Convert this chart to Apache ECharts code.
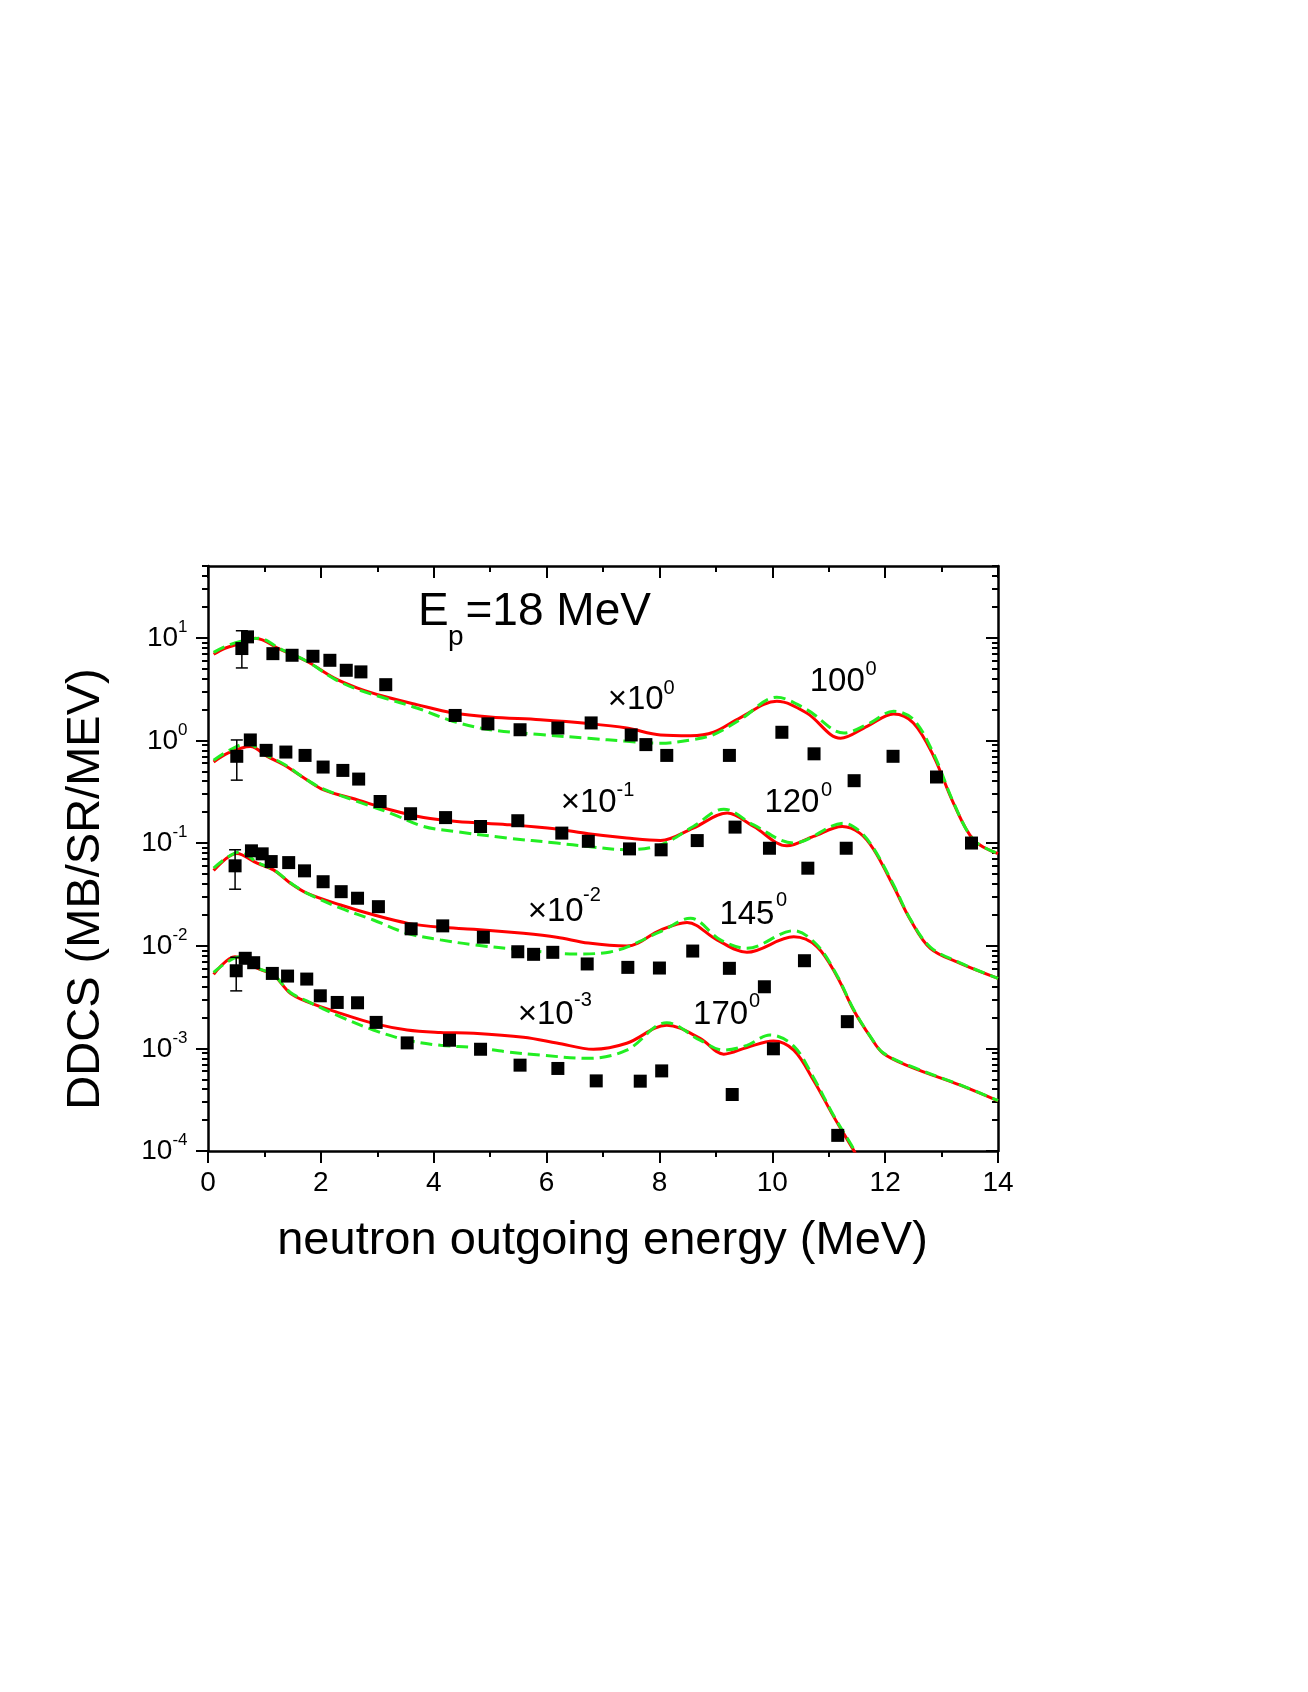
<!DOCTYPE html>
<html>
<head>
<meta charset="utf-8">
<title>DDCS, Ep=18 MeV</title>
<script src="https://cdn.jsdelivr.net/npm/echarts@6.0.0/dist/echarts.min.js"></script>
<style>
  html, body { margin: 0; padding: 0; background: #fff; }
  #chart { width: 1308px; height: 1692px; }
</style>
</head>
<body>
<div id="chart"></div>
<script>
// axis ticks
var xTicks = [0, 2, 4, 6, 8, 10, 12, 14];
var yDecades = [-4, -3, -2, -1, 0, 1];   // exponents of the labelled decades
var yMin = 1e-4, yMax = 50;

// measured points (MeV, mb/sr/MeV), already scaled by x10^0 ... x10^-3
var exp100 = [[0.60,7.85],[0.70,10.2],[1.15,7.0],[1.49,6.75],[1.86,6.6],[2.16,6.03],[2.45,4.82],[2.71,4.65],
  [3.15,3.49],[4.38,1.75],[4.96,1.45],[5.53,1.27],[6.20,1.32],[6.79,1.48],[7.50,1.13],[7.76,0.91],[8.13,0.714],
  [9.24,0.714],[10.17,1.2],[10.74,0.74],[11.45,0.405],[12.14,0.70],[12.91,0.44],[13.53,0.100]];
var exp120 = [[0.51,0.70],[0.75,1.01],[1.03,0.80],[1.38,0.77],[1.72,0.714],[2.04,0.55],[2.39,0.51],[2.67,0.42],
  [3.05,0.254],[3.59,0.193],[4.21,0.177],[4.83,0.145],[5.49,0.165],[6.27,0.125],[6.74,0.104],[7.47,0.0877],
  [8.03,0.0859],[8.67,0.1057],[9.34,0.143],[9.95,0.089],[10.63,0.0569],[11.31,0.089]];
var exp145 = [[0.48,0.060],[0.77,0.084],[0.96,0.0785],[1.12,0.066],[1.43,0.0645],[1.71,0.0536],[2.04,0.042],
  [2.36,0.0336],[2.65,0.029],[3.02,0.024],[3.60,0.0146],[4.16,0.0156],[4.88,0.0121],[5.49,0.00873],[5.77,0.00824],
  [6.11,0.00862],[6.72,0.00664],[7.44,0.00615],[8.00,0.00606],[8.59,0.00887],[9.24,0.00602],[9.86,0.00398],
  [10.57,0.00714],[11.33,0.00182]];
var exp170 = [[0.50,0.0057],[0.66,0.00754],[0.81,0.00683],[1.14,0.00537],[1.41,0.00506],[1.75,0.00473],
  [1.99,0.00325],[2.29,0.0028],[2.65,0.00278],[2.98,0.00179],[3.53,0.00113],[4.28,0.0012],[4.83,0.00098],
  [5.53,0.000686],[6.20,0.000637],[6.88,0.000482],[7.66,0.000479],[8.04,0.000603],[9.29,0.000355],
  [10.02,0.00099],[11.16,0.000142]];

// error bars [E, low, high]
var errBars = [[0.60,5.08,11.7],[0.51,0.41,1.01],[0.48,0.0355,0.086],[0.50,0.00363,0.0077]];

// calculations: red solid and green dashed
var red100 = [[0.10,6.9],[0.30,7.9],[0.60,8.9],[0.84,9.9],[1.28,7.7],[1.75,5.9],[2.23,4.06],[2.64,3.25],[3.11,2.69],
  [3.70,2.23],[4.35,1.85],[5.0,1.69],[5.89,1.59],[6.74,1.46],[7.42,1.32],[8.02,1.13],[8.55,1.11],[8.96,1.20],
  [9.43,1.66],[10.08,2.40],[10.61,1.85],[11.21,1.05],[11.68,1.37],[12.15,1.81],[12.50,1.48],[12.86,0.70],
  [13.21,0.245],[13.57,0.107],[14.0,0.079]];
var green100 = [[0.10,7.2],[0.30,8.2],[0.60,9.3],[0.90,9.9],[1.28,7.8],[1.75,5.9],[2.23,4.0],[2.64,3.15],[3.11,2.6],
  [3.70,2.07],[4.35,1.53],[5.0,1.27],[5.89,1.14],[6.74,1.05],[7.42,0.98],[8.02,0.94],[8.60,1.02],[8.96,1.14],
  [9.43,1.59],[10.08,2.63],[10.61,2.0],[11.27,1.18],[11.70,1.45],[12.15,1.92],[12.50,1.6],[12.86,0.74],
  [13.21,0.25],[13.57,0.107],[14.0,0.079]];
var red120 = [[0.10,0.615],[0.36,0.755],[0.75,0.873],[1.05,0.698],[1.34,0.579],[1.75,0.414],[2.05,0.33],[2.64,0.264],
  [3.23,0.211],[3.82,0.177],[4.41,0.162],[5.30,0.151],[6.18,0.137],[6.74,0.123],[7.42,0.112],[8.02,0.106],
  [8.60,0.14],[9.20,0.196],[9.67,0.145],[10.26,0.094],[10.73,0.116],[11.24,0.145],[11.55,0.125],[11.80,0.086],
  [12.15,0.0377],[12.45,0.0178],[12.80,0.00944],[13.33,0.00673],[14.0,0.00481]];
var green120 = [[0.10,0.64],[0.36,0.79],[0.69,0.93],[1.05,0.71],[1.34,0.59],[1.75,0.414],[2.05,0.335],[2.64,0.255],
  [3.23,0.196],[3.82,0.145],[4.41,0.129],[5.30,0.112],[6.18,0.1],[6.74,0.0925],[7.42,0.086],[8.02,0.096],
  [8.60,0.145],[9.14,0.214],[9.67,0.15],[10.38,0.1],[11.27,0.156],[11.55,0.13],[11.80,0.088],[12.15,0.039],
  [12.45,0.018],[12.80,0.0097],[13.33,0.0068],[14.0,0.0048]];
var red145 = [[0.10,0.054],[0.51,0.079],[0.87,0.0636],[1.16,0.0548],[1.46,0.0406],[1.75,0.0325],[2.35,0.0249],
  [2.93,0.02],[3.53,0.0166],[4.12,0.0151],[4.71,0.0145],[5.59,0.0132],[6.18,0.0121],[6.74,0.0106],[7.42,0.00993],
  [8.02,0.0142],[8.49,0.0168],[9.02,0.0114],[9.55,0.00863],[10.38,0.0122],[10.79,0.0098],[11.15,0.00499],
  [11.44,0.00236],[11.74,0.00129],[11.97,0.00089],[12.45,0.00066],[13.33,0.000438],[14.0,0.000308]];
var green145 = [[0.10,0.057],[0.57,0.082],[0.87,0.065],[1.16,0.055],[1.46,0.041],[1.75,0.0325],[2.35,0.0232],
  [2.93,0.0178],[3.53,0.0132],[4.12,0.0114],[4.71,0.0102],[5.59,0.00908],[6.5,0.0083],[7.13,0.0087],[8.02,0.0137],
  [8.55,0.0185],[9.08,0.0114],[9.55,0.00944],[10.38,0.014],[10.79,0.0102],[11.15,0.0051],[11.44,0.0024],
  [11.74,0.0013],[11.97,0.0009],[12.45,0.00067],[13.33,0.00044],[14.0,0.00031]];
var red170 = [[0.10,0.00526],[0.48,0.00782],[0.87,0.00603],[1.16,0.00518],[1.46,0.00343],[1.75,0.00285],
  [2.35,0.00219],[2.93,0.00175],[3.53,0.00151],[4.12,0.00143],[4.71,0.0014],[5.59,0.00128],[6.18,0.00113],
  [6.83,0.00098],[7.42,0.00112],[8.13,0.00168],[8.72,0.00125],[9.14,0.000878],[9.55,0.00102],[10.02,0.00118],
  [10.38,0.00096],[10.73,0.00049],[11.09,0.000215],[11.44,0.000102],[11.6,0.00007]];
var green170 = [[0.10,0.0055],[0.57,0.0078],[0.87,0.0061],[1.16,0.0052],[1.46,0.0035],[1.75,0.0029],[2.35,0.00203],
  [2.93,0.00151],[3.53,0.0012],[4.12,0.00107],[4.71,0.00102],[5.3,0.000925],[5.89,0.00086],[6.74,0.0008],
  [7.42,0.00096],[8.13,0.00178],[8.72,0.0012],[9.14,0.00096],[9.55,0.00107],[9.96,0.00135],[10.38,0.00105],
  [10.73,0.00052],[11.09,0.00022],[11.44,0.000105],[11.6,0.00007]];

// in-plot labels: angle and scale factor exponent
var angles = ['100', '120', '145', '170'];
var scaleExp = ['0', '-1', '-2', '-3'];

var FONT = '"Liberation Sans", Arial, Helvetica, sans-serif';
var RED = '#ff0000', GREEN = '#22ee22';

function lg(arr) {
    return arr.map(function (p) { return [p[0], Math.log10(p[1])]; });
}

// minor log ticks 2..9 x 10^n
var yMinor = [];
for (var d = -4; d <= 1; d++) {
    for (var k = 2; k <= 9; k++) {
        var v = d + Math.log10(k);
        if (v <= Math.log10(yMax) + 1e-9) yMinor.push(v);
    }
}

var chart = echarts.init(document.getElementById('chart'));

function yAxisBase(pos, showLine) {
    return {
        type: 'value', position: pos,
        min: Math.log10(yMin), max: Math.log10(yMax),
        axisLine: { show: showLine, onZero: false, lineStyle: { color: '#000', width: 2.5 } },
        splitLine: { show: false },
        axisLabel: { show: false }
    };
}

var yLeft = yAxisBase('left', true);
yLeft.axisTick = { show: true, length: 12, customValues: yDecades, lineStyle: { color: '#000', width: 2 } };
var yLeftMinor = yAxisBase('left', false);
yLeftMinor.axisTick = { show: true, length: 6, customValues: yMinor, lineStyle: { color: '#000', width: 2 } };
var yRight = yAxisBase('right', true);
yRight.axisTick = { show: true, inside: true, length: 12, customValues: yDecades, lineStyle: { color: '#000', width: 2 } };
var yRightMinor = yAxisBase('right', false);
yRightMinor.axisTick = { show: true, inside: true, length: 6, customValues: yMinor, lineStyle: { color: '#000', width: 2 } };

function xAxisBase(pos, inside, showLabel) {
    return {
        type: 'value', position: pos, min: xTicks[0], max: xTicks[xTicks.length - 1], interval: 2,
        axisLine: { show: true, onZero: false, lineStyle: { color: '#000', width: 2.5 } },
        axisTick: { show: true, inside: inside, length: 12, lineStyle: { color: '#000', width: 2 } },
        minorTick: { show: true, splitNumber: 2, length: 6, lineStyle: { color: '#000', width: 2 } },
        splitLine: { show: false },
        axisLabel: { show: showLabel, fontSize: 28, fontFamily: FONT, color: '#000', margin: 18.5 }
    };
}

function curve(name, data, color, dashed) {
    return {
        name: name, type: 'line', data: lg(data), smooth: 0.35, symbol: 'none',
        lineStyle: { color: color, width: 3, type: dashed ? [12, 6] : 'solid' },
        z: dashed ? 3 : 2, silent: true, animation: false
    };
}

function points(name, data) {
    return {
        name: name, type: 'scatter', data: lg(data), symbol: 'rect', symbolSize: 13,
        itemStyle: { color: '#000', opacity: 1 }, z: 5, animation: false
    };
}

var errData = errBars.map(function (e) { return [e[0], Math.log10(e[1]), Math.log10(e[2])]; });

var series = [
    curve('red100', red100, RED, false), curve('green100', green100, GREEN, true),
    curve('red120', red120, RED, false), curve('green120', green120, GREEN, true),
    curve('red145', red145, RED, false), curve('green145', green145, GREEN, true),
    curve('red170', red170, RED, false), curve('green170', green170, GREEN, true),
    points('100', exp100), points('120', exp120), points('145', exp145), points('170', exp170),
    {
        type: 'custom', data: errData, z: 4, animation: false,
        renderItem: function (params, api) {
            var lo = api.coord([api.value(0), api.value(1)]);
            var hi = api.coord([api.value(0), api.value(2)]);
            var w = 6, st = { stroke: '#000', lineWidth: 1.5 };
            return {
                type: 'group', children: [
                    { type: 'line', shape: { x1: lo[0], y1: lo[1], x2: hi[0], y2: hi[1] }, style: st },
                    { type: 'line', shape: { x1: lo[0] - w, y1: lo[1], x2: lo[0] + w, y2: lo[1] }, style: st },
                    { type: 'line', shape: { x1: hi[0] - w, y1: hi[1], x2: hi[0] + w, y2: hi[1] }, style: st }
                ]
            };
        }
    }
];

chart.setOption({
    backgroundColor: '#fff',
    animation: false,
    grid: { left: 208, right: 310, top: 566, bottom: 541, containLabel: false },
    xAxis: [xAxisBase('bottom', false, true), xAxisBase('top', true, false)],
    yAxis: [yLeft, yLeftMinor, yRight, yRightMinor],
    series: series
});

// text pieces: text, x, centre y, font size
function txt(t, x, y, size, rot, align) {
    return {
        type: 'text', x: x, y: y, rotation: rot || 0, z: 10,
        style: { text: t, fontSize: size, fontFamily: FONT, fill: '#000',
                 align: align || 'left', verticalAlign: 'middle' }
    };
}

// y tick labels 10^n, placed on the axis scale
var ctx = document.createElement('canvas').getContext('2d');
ctx.font = '17px ' + FONT;
var labelRight = 187.5;
var graphics = [];
yDecades.forEach(function (e) {
    var py = chart.convertToPixel({ yAxisIndex: 0 }, e);
    var sup = String(e);
    var w = ctx.measureText(sup).width;
    graphics.push(txt(sup, labelRight, py - 10.5, 17, 0, 'right'));
    graphics.push(txt('10', labelRight - w, py + 0.5, 28, 0, 'right'));
});

var labelPos = [
    { f: [607.7, 700], fs: [663.5, 688], a: [809.7, 681.7], as: [865.5, 669] },
    { f: [560.7, 803.3], fs: [616.5, 790.8], a: [764.4, 803.3], as: [821, 790.5] },
    { f: [527.7, 911.7], fs: [583, 895], a: [719.4, 914.5], as: [776, 900.5] },
    { f: [517.7, 1015], fs: [574, 1000.5], a: [693.1, 1015], as: [749, 1001] }
];
graphics.push(txt('E', 418, 612, 46), txt('p', 448, 637, 28), txt('=18 MeV', 465.5, 612, 46));
graphics.push(txt('DDCS (MB/SR/MEV)', 86, 889, 47, Math.PI / 2, 'center'));
graphics.push(txt('neutron outgoing energy (MeV)', 602.5, 1241, 47, 0, 'center'));
labelPos.forEach(function (p, i) {
    graphics.push(txt('\u00d710', p.f[0], p.f[1], 33));
    graphics.push(txt(scaleExp[i], p.fs[0], p.fs[1], 20));
    graphics.push(txt(angles[i], p.a[0], p.a[1], 33));
    graphics.push(txt('0', p.as[0], p.as[1], 20));
});

chart.setOption({ graphic: graphics });
</script>
</body>
</html>
